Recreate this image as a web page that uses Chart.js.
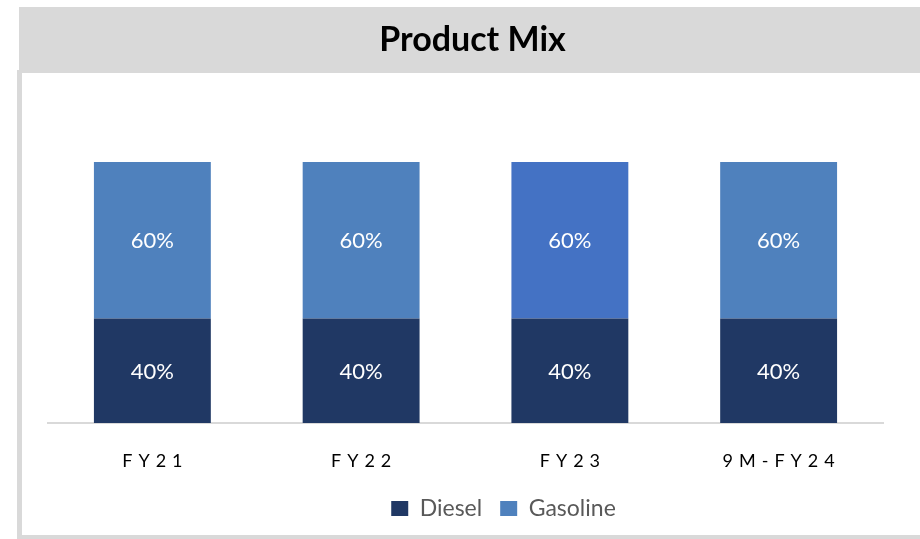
<!DOCTYPE html>
<html>
<head>
<meta charset="utf-8">
<script src="https://cdn.jsdelivr.net/npm/chart.js@4.4.1/dist/chart.umd.min.js"></script>
<style>
  html, body { margin: 0; padding: 0; background: #fff; }
  #wrap { width: 920px; height: 539px; }
</style>
</head>
<body>
<div id="wrap"><canvas id="mixChart" width="920" height="539"></canvas></div>
<script>
const chartTitle = 'Product Mix';
const categories = ['FY21', 'FY22', 'FY23', '9M-FY24'];
const diesel = [40, 40, 40, 40];
const gasoline = [60, 60, 60, 60];
const gasolineColors = ['#4F81BD', '#4F81BD', '#4472C4', '#4F81BD'];

// gray header band with the title, and the frame around the chart
const framePlugin = {
  id: 'frame',
  afterLayout(chart) {
    // legend sits a bit right of the plot centre in the original
    chart.legend.left += 38;
    chart.legend.right += 38;
  },
  beforeDraw(chart) {
    const ctx = chart.ctx;
    ctx.save();
    ctx.fillStyle = '#d9d9d9';
    ctx.fillRect(19, 7, 901, 66);
    ctx.fillRect(17, 70, 5, 469);
    ctx.fillRect(17, 535, 903, 4);
    ctx.fillStyle = '#000';
    ctx.font = 'bold 34px Lato';
    ctx.textAlign = 'center';
    ctx.textBaseline = 'middle';
    ctx.fillText(chartTitle, 472.5, 40);
    ctx.restore();
  }
};

// white value labels centred in each segment
const valueLabels = {
  id: 'valueLabels',
  afterDatasetsDraw(chart) {
    const ctx = chart.ctx;
    ctx.save();
    ctx.fillStyle = '#ffffff';
    ctx.font = '22px Lato';
    ctx.textAlign = 'center';
    ctx.textBaseline = 'middle';
    chart.data.datasets.forEach((ds, i) => {
      chart.getDatasetMeta(i).data.forEach((bar, j) => {
        const y = (bar.y + bar.base) / 2;
        ctx.fillText(ds.data[j] + '%', bar.x, y + 1);
      });
    });
    ctx.restore();
  }
};

const ctx = document.getElementById('mixChart').getContext('2d');
const chart = new Chart(ctx, {
  type: 'bar',
  data: {
    labels: categories,
    datasets: [
      { label: 'Diesel', data: diesel, backgroundColor: '#203864' },
      { label: 'Gasoline', data: gasoline, backgroundColor: gasolineColors }
    ]
  },
  options: {
    responsive: false,
    animation: false,
    events: [],
    layout: { padding: { left: 48, right: 37, top: 162, bottom: 9 } },
    datasets: { bar: { categoryPercentage: 1, barPercentage: 0.56 } },
    scales: {
      x: {
        stacked: true,
        grid: { display: false, drawTicks: false },
        border: { display: true, color: '#d9d9d9', width: 2 },
        ticks: { color: '#000', font: { family: 'Lato', size: 18 }, padding: 27 },
        afterFit(scale) { scale.height = 56; }
      },
      y: { stacked: true, display: false, min: 0, max: 100 }
    },
    plugins: {
      title: { display: false },
      legend: {
        position: 'bottom',
        labels: {
          color: '#595959',
          font: { family: 'Lato', size: 23 },
          boxWidth: 17,
          boxHeight: 15,
          padding: 18
        }
      },
      tooltip: { enabled: false }
    }
  },
  plugins: [framePlugin, valueLabels]
});

// spaced-out category labels like the original
const xs = chart.scales.x;
const drawLabels = xs.drawLabels.bind(xs);
xs.drawLabels = function (area) {
  const c = chart.ctx;
  c.save();
  c.letterSpacing = '6px';
  c.translate(3, 0);
  drawLabels(area);
  c.restore();
};
chart.draw();
</script>
</body>
</html>
